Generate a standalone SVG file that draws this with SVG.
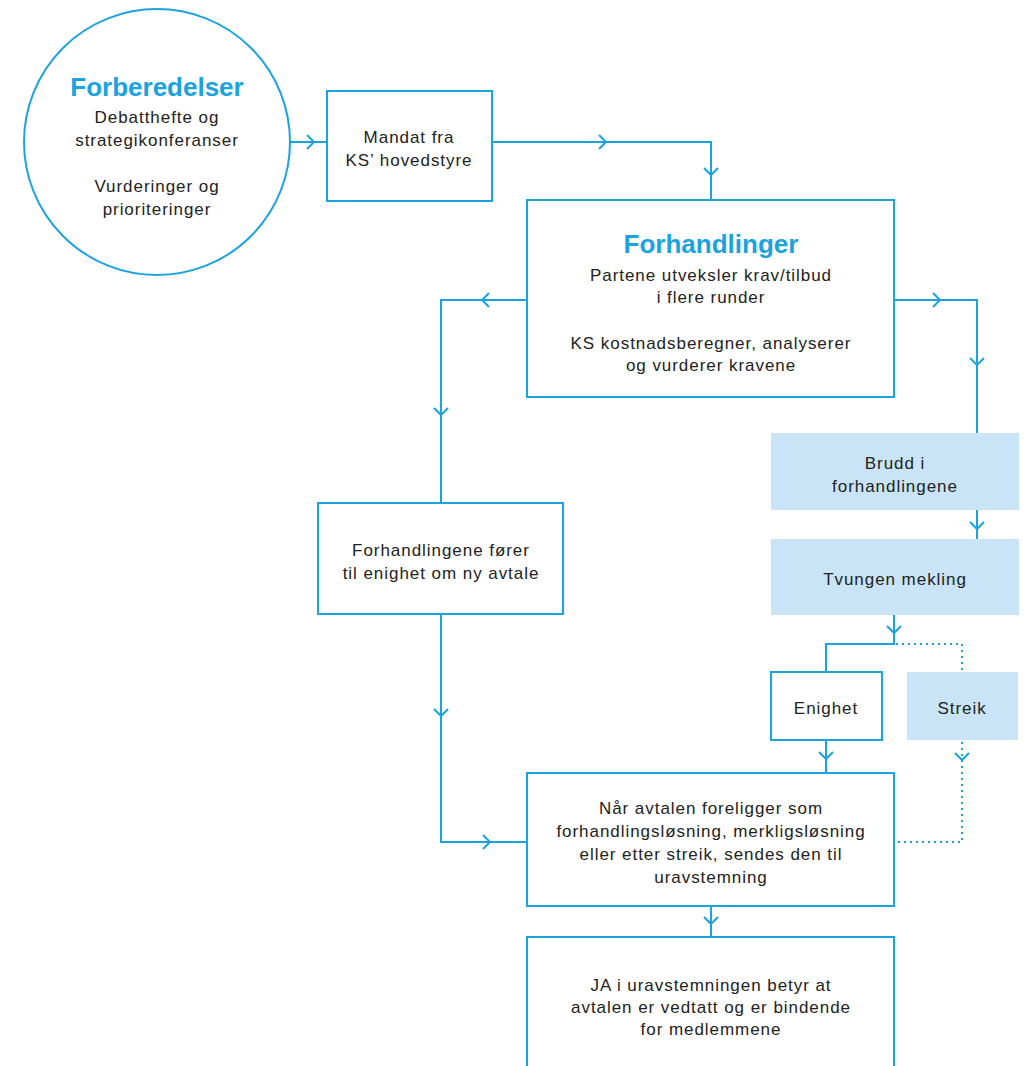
<svg xmlns="http://www.w3.org/2000/svg" xmlns:xlink="http://www.w3.org/1999/xlink" width="1025" height="1066" viewBox="0 0 1025 1066">
<style>
.box{fill:#fff;stroke:#1ba3e0;stroke-width:2}
.lbox{fill:#c9e4f7;stroke:none}
.t{font-family:"Liberation Sans",Arial,sans-serif;font-size:17px;letter-spacing:0.95px;fill:#222;text-anchor:middle}
.h{font-family:"Liberation Sans",Arial,sans-serif;font-size:26px;font-weight:bold;fill:#1ba3e0;text-anchor:middle}
.ln{fill:none;stroke:#1ba3e0;stroke-width:2}
.dot{fill:none;stroke:#1ba3e0;stroke-width:2;stroke-dasharray:2 4}
.ch{fill:none;stroke:#1ba3e0;stroke-width:2}
</style>
<defs>
<path id="chev" d="M-4,-7 L3,0 L-4,7"/>
</defs>
<rect width="1025" height="1066" fill="#fff"/>
<g id="connectors">
<path class="ln" d="M290,142 H327"/>
<path class="ln" d="M492,142 H711 V200"/>
<path class="ln" d="M527,300 H441 V503"/>
<path class="ln" d="M894,300 H977 V433"/>
<path class="ln" d="M977,510 V539"/>
<path class="ln" d="M894,615 V644 H826 V672"/>
<path class="dot" d="M896,644 H962 V672"/>
<path class="ln" d="M826,740 V773"/>
<path class="dot" d="M962,742 V842 H896"/>
<path class="ln" d="M441,614 V842 H527"/>
<path class="ln" d="M711,906 V937"/>
<use xlink:href="#chev" class="ch" transform="translate(311,142)"/>
<use xlink:href="#chev" class="ch" transform="translate(603,142)"/>
<use xlink:href="#chev" class="ch" transform="translate(711,172) rotate(90)"/>
<use xlink:href="#chev" class="ch" transform="translate(485,300) rotate(180)"/>
<use xlink:href="#chev" class="ch" transform="translate(441,412) rotate(90)"/>
<use xlink:href="#chev" class="ch" transform="translate(937,300)"/>
<use xlink:href="#chev" class="ch" transform="translate(977,362) rotate(90)"/>
<use xlink:href="#chev" class="ch" transform="translate(977,526) rotate(90)"/>
<use xlink:href="#chev" class="ch" transform="translate(894,630) rotate(90)"/>
<use xlink:href="#chev" class="ch" transform="translate(826,756) rotate(90)"/>
<use xlink:href="#chev" class="ch" transform="translate(962,757) rotate(90)"/>
<use xlink:href="#chev" class="ch" transform="translate(441,713) rotate(90)"/>
<use xlink:href="#chev" class="ch" transform="translate(487,842)"/>
<use xlink:href="#chev" class="ch" transform="translate(711,921) rotate(90)"/>
</g>
<g id="forberedelser">
<circle class="box" cx="157" cy="142" r="133"/>
<text class="h" x="157" y="96">Forberedelser</text>
<text class="t" x="157" y="123">Debatthefte og</text>
<text class="t" x="157" y="146">strategikonferanser</text>
<text class="t" x="157" y="192">Vurderinger og</text>
<text class="t" x="157" y="215">prioriteringer</text>
</g>
<g id="mandat">
<rect class="box" x="327" y="91" width="165" height="110"/>
<text class="t" x="409" y="143">Mandat fra</text>
<text class="t" x="409" y="166">KS’ hovedstyre</text>
</g>
<g id="forhandlinger">
<rect class="box" x="527" y="200" width="367" height="197"/>
<text class="h" x="711" y="253">Forhandlinger</text>
<text class="t" x="711" y="281">Partene utveksler krav/tilbud</text>
<text class="t" x="711" y="303">i flere runder</text>
<text class="t" x="711" y="349">KS kostnadsberegner, analyserer</text>
<text class="t" x="711" y="371">og vurderer kravene</text>
</g>
<g id="brudd">
<rect class="lbox" x="771" y="433" width="248" height="77"/>
<text class="t" x="895" y="469">Brudd i</text>
<text class="t" x="895" y="492">forhandlingene</text>
</g>
<g id="tvungen">
<rect class="lbox" x="771" y="539" width="248" height="76"/>
<text class="t" x="895" y="585">Tvungen mekling</text>
</g>
<g id="enighet">
<rect class="box" x="771" y="672" width="111" height="68"/>
<text class="t" x="826" y="714">Enighet</text>
</g>
<g id="streik">
<rect class="lbox" x="907" y="672" width="111" height="68"/>
<text class="t" x="962" y="714">Streik</text>
</g>
<g id="enighet-avtale">
<rect class="box" x="318" y="503" width="245" height="111"/>
<text class="t" x="441" y="556">Forhandlingene fører</text>
<text class="t" x="441" y="579">til enighet om ny avtale</text>
</g>
<g id="uravstemning">
<rect class="box" x="527" y="773" width="367" height="133"/>
<text class="t" x="711" y="814">Når avtalen foreligger som</text>
<text class="t" x="711" y="837">forhandlingsløsning, merkligsløsning</text>
<text class="t" x="711" y="860">eller etter streik, sendes den til</text>
<text class="t" x="711" y="883">uravstemning</text>
</g>
<g id="ja">
<rect class="box" x="527" y="937" width="367" height="140"/>
<text class="t" x="711" y="991">JA i uravstemningen betyr at</text>
<text class="t" x="711" y="1013">avtalen er vedtatt og er bindende</text>
<text class="t" x="711" y="1035">for medlemmene</text>
</g>
</svg>
